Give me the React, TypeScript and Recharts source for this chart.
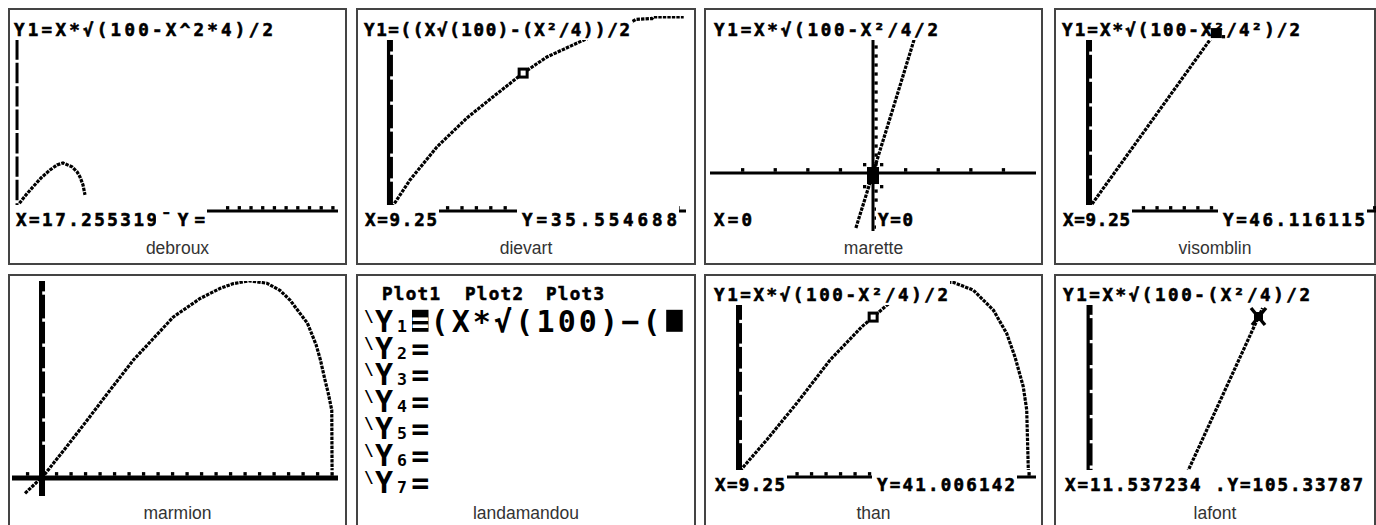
import React from 'react';
import { ComposedChart, Line, Scatter, XAxis, YAxis } from 'recharts';

type Pt = { x: number; y: number };

// ---- debroux ----
const debrouxFormula = 'Y1=X*√(100-X^2*4)/2';
const debrouxReadout = ['X=17.255319', '¯Y='];
const debrouxCurve: Pt[] = [
  { x: 0.2, y: 2.0 }, { x: 0.77, y: 4.2 }, { x: 1.37, y: 6.3 }, { x: 2.05, y: 8.6 },
  { x: 2.82, y: 10.7 }, { x: 3.42, y: 12.0 }, { x: 3.93, y: 12.5 }, { x: 4.7, y: 11.5 },
  { x: 5.13, y: 10.2 }, { x: 5.38, y: 8.9 }, { x: 5.64, y: 6.8 }, { x: 5.81, y: 4.2 },
];
const debrouxXTicks = [18, 19, 20, 21, 22, 23, 24, 25, 26, 27];

// ---- dievart ----
const dievartFormula = 'Y1=((X√(100)-(X²/4))/2';
const dievartReadout = ['X=9.25', 'Y=35.554688'];
const dievartCurve: Pt[] = [
  { x: 0.14, y: 1.0 }, { x: 1.39, y: 8.0 }, { x: 3.26, y: 16.5 }, { x: 5.35, y: 24.0 },
  { x: 7.15, y: 29.4 }, { x: 9.25, y: 35.55 }, { x: 10.9, y: 39.7 }, { x: 13.3, y: 43.8 },
  { x: 15.0, y: 46.5 }, { x: 16.5, y: 48.2 }, { x: 17.1, y: 49.4 }, { x: 18.2, y: 49.6 },
  { x: 18.3, y: 50.0 }, { x: 20.4, y: 50.0 },
];
const dievartCursor: Pt = { x: 9.25, y: 35.55 };
const dievartXTicks = [1, 2, 3, 4, 5, 6, 7, 8, 9, 10, 11, 12, 13, 14, 15, 16, 17, 18, 19, 20];
const dievartYMarks = [8.0, 14.4, 20.9, 27.8, 34.3, 40.7, 47.1];

// ---- marette ----
const maretteFormula = 'Y1=X*√(100-X²/4/2';
const maretteReadout = ['X=0', 'Y=0'];
const maretteLine: Pt[] = [
  { x: -1.05, y: -6.1 }, { x: 0, y: 0 }, { x: 1.25, y: 7.3 }, { x: 2.52, y: 14.8 }, { x: 2.95, y: 17.4 },
];
const maretteCursor: Pt = { x: 0, y: 0 };
const maretteXTicks = [-8, -6, -4, -2, 2, 4, 6, 8];
const maretteYTicks = [-6, -5, -4, -3, -2, -1, 1, 2, 3, 4, 5, 6, 7, 8, 9, 10, 11, 12, 13, 14, 15, 16, 17];

// ---- visomblin ----
const visomblinFormula = 'Y1=X*√(100-X²/4²)/2';
const visomblinReadout = ['X=9.25', 'Y=46.116115'];
const visomblinLine: Pt[] = [{ x: 0.22, y: 1.8 }, { x: 9.25, y: 46.1 }];
const visomblinCursor: Pt = { x: 9.25, y: 46.1 };
const visomblinXTicks = [1, 2, 3, 4, 5, 6, 7, 8, 9, 10, 11, 12, 13, 14, 15, 16, 17, 18, 19, 20, 21];
const visomblinYMarks = [8.8, 15.0, 21.5, 27.5, 33.9, 40.9, 47.3];

// ---- marmion ----
const marmionCurve: Pt[] = [
  { x: -1.17, y: -3.9 }, { x: 0.09, y: 0.5 }, { x: 1.7, y: 8.0 }, { x: 3.0, y: 14.2 },
  { x: 4.46, y: 21.3 }, { x: 6.3, y: 30.1 }, { x: 7.68, y: 35.6 }, { x: 9.06, y: 41.1 },
  { x: 10.9, y: 45.8 }, { x: 12.3, y: 48.4 }, { x: 13.2, y: 49.6 }, { x: 14.3, y: 50.3 },
  { x: 15.5, y: 49.7 }, { x: 16.4, y: 47.9 }, { x: 17.1, y: 45.4 }, { x: 18.3, y: 39.5 },
  { x: 18.9, y: 34.0 }, { x: 19.2, y: 30.1 }, { x: 19.5, y: 25.2 }, { x: 19.74, y: 21.6 },
  { x: 19.98, y: 17.3 }, { x: 20.0, y: 2.0 },
];
const marmionXTicks = [-1, 1, 2, 3, 4, 5, 6, 7, 8, 9, 10, 11, 12, 13, 14, 15, 16, 17, 18, 19, 20];
const marmionYMarks = [8.9, 14.8, 21.2, 27.6, 33.9, 40.3, 47.2];

// ---- landamandou (Y= editor) ----
const plotLabels = ['Plot1', 'Plot2', 'Plot3'];
const y1Entry = ['(', 'X', '*', '√', '(', '1', '0', '0', ')', '−', '('];
const yVars = ['1', '2', '3', '4', '5', '6', '7'];

// ---- than ----
const thanFormula = 'Y1=X*√(100-X²/4)/2';
const thanReadout = ['X=9.25', 'Y=41.006142'];
const thanCurve: Pt[] = [
  { x: 0.07, y: 1.6 }, { x: 1.91, y: 9.5 }, { x: 3.98, y: 18.9 }, { x: 6.28, y: 30.0 },
  { x: 8.46, y: 38.5 }, { x: 9.25, y: 41.0 }, { x: 10.2, y: 44.1 }, { x: 12.0, y: 47.7 },
  { x: 13.2, y: 49.4 }, { x: 14.1, y: 50.0 }, { x: 14.8, y: 49.9 }, { x: 16.16, y: 47.9 },
  { x: 17.54, y: 42.8 }, { x: 18.46, y: 36.8 }, { x: 19.03, y: 30.8 }, { x: 19.6, y: 23.2 },
  { x: 19.84, y: 17.2 }, { x: 19.95, y: 1.8 },
];
const thanCursor: Pt = { x: 9.25, y: 41.006 };
const thanXTicks = [1, 2, 3, 4, 5, 6, 7, 8, 9, 10, 11, 12, 13, 14, 15, 16, 17, 18, 19, 20];
const thanYMarks = [9.1, 15.0, 21.5, 27.4, 33.8, 39.9, 46.0];

// ---- lafont ----
const lafontFormula = 'Y1=X*√(100-(X²/4)/2';
const lafontReadout = ['X=11.537234 .Y=105.33787'];
const lafontLine: Pt[] = [{ x: 6.68, y: 60.3 }, { x: 11.54, y: 105.34 }, { x: 11.85, y: 108.2 }];
const lafontCursor: Pt = { x: 11.537, y: 105.34 };
const lafontYMarks = [62, 69.4, 76.7, 84, 91.2, 98.5, 105.8];

const studentNames = ['debroux', 'dievart', 'marette', 'visomblin', 'marmion', 'landamandou', 'than', 'lafont'];

// layout
const COL_X = [8, 356, 704, 1054];
const COL_W = [339, 340, 339, 322];
const ROW_Y = [8, 274];
const ROW_H = [257, 270];
const MONO = '"DejaVu Sans Mono", monospace';

type Run = { s: string; x: number; w: number; pad?: number };
type Screen = {
  box: [number, number, number, number];
  xd: [number, number];
  yd: [number, number];
  curves: Pt[][];
  yAxis?: number;
  yDash?: string;
  xAxis?: number;
  xTicks?: number[];
  yMarks?: number[];
  yTicks?: number[];
  cursor?: { at: Pt; kind: 'box' | 'blob' | 'smallblob' | 'cross' };
  title?: Run;
  readout?: Run[];
};

const screens: Screen[] = [
  {
    box: [12, 16, 326, 215], xd: [-0.43, 27.44], yd: [-5.21, 50.78],
    curves: [debrouxCurve], yAxis: 3, yDash: '20.4 3', xAxis: 3, xTicks: debrouxXTicks,
    title: { s: debrouxFormula, x: 14, w: 259 },
    readout: [{ s: debrouxReadout[0], x: 16, w: 141 }, { s: debrouxReadout[1], x: 161, w: 44 }],
  },
  {
    box: [360, 16, 326, 215], xd: [-2.08, 20.56], yd: [-5.15, 50.26],
    curves: [dievartCurve], yAxis: 6, xAxis: 3, xTicks: dievartXTicks, yMarks: dievartYMarks,
    cursor: { at: dievartCursor, kind: 'box' },
    title: { s: dievartFormula, x: 364, w: 266 },
    readout: [{ s: dievartReadout[0], x: 365, w: 72 }, { s: dievartReadout[1], x: 522, w: 155 }],
  },
  {
    box: [710, 16, 326, 215], xd: [-10, 10], yd: [-6.44, 17.44],
    curves: [maretteLine], yAxis: 3, xAxis: 3, xTicks: maretteXTicks, yTicks: maretteYTicks,
    cursor: { at: maretteCursor, kind: 'blob' },
    title: { s: maretteFormula, x: 714, w: 224 },
    readout: [{ s: maretteReadout[0], x: 714, w: 38 }, { s: maretteReadout[1], x: 878, w: 35, pad: 2 }],
  },
  {
    box: [1058, 16, 318, 215], xd: [-2.28, 21.1], yd: [-5.18, 50.52],
    curves: [visomblinLine], yAxis: 6, xAxis: 3, xTicks: visomblinXTicks, yMarks: visomblinYMarks,
    cursor: { at: visomblinCursor, kind: 'smallblob' },
    title: { s: visomblinFormula, x: 1062, w: 238 },
    readout: [{ s: visomblinReadout[0], x: 1063, w: 67 }, { s: visomblinReadout[1], x: 1223, w: 142 }],
  },
  {
    box: [12, 281, 326, 215], xd: [-2.07, 20.41], yd: [-4.59, 50.26],
    curves: [marmionCurve], yAxis: 6, xAxis: 5, xTicks: marmionXTicks, yMarks: marmionYMarks,
  },
  {
    box: [710, 281, 326, 215], xd: [-2.0, 20.48], yd: [-4.87, 50.26],
    curves: [thanCurve], yAxis: 6, xAxis: 3, xTicks: thanXTicks, yMarks: thanYMarks,
    cursor: { at: thanCursor, kind: 'box' },
    title: { s: thanFormula, x: 714, w: 234 },
    readout: [{ s: thanReadout[0], x: 715, w: 70 }, { s: thanReadout[1], x: 877, w: 138 }],
  },
  {
    box: [1058, 281, 318, 215], xd: [-2.16, 19.62], yd: [53.6, 116.1],
    curves: [lafontLine], yAxis: 6, yMarks: lafontYMarks,
    cursor: { at: lafontCursor, kind: 'cross' },
    title: { s: lafontFormula, x: 1063, w: 247 },
    readout: [{ s: lafontReadout[0], x: 1065, w: 298 }],
  },
];

const Frame: React.FC<{ s: Screen; children?: React.ReactNode }> = ({ s, children }) => (
  <div style={{ position: 'absolute', left: s.box[0], top: s.box[1] }}>
    <ComposedChart width={s.box[2]} height={s.box[3]} margin={{ top: 0, right: 0, bottom: 0, left: 0 }}>
      <XAxis type="number" dataKey="x" domain={s.xd} hide allowDataOverflow />
      <YAxis type="number" dataKey="y" domain={s.yd} hide allowDataOverflow />
      {children}
    </ComposedChart>
  </div>
);

const BaseScreen: React.FC<{ s: Screen }> = ({ s }) => {
  const xw = s.xAxis || 3;
  return (
    <Frame s={s}>
      {s.yAxis && (
        <Line id="yaxis" data={[{ x: 0, y: s.yd[1] }, { x: 0, y: s.yd[0] }]} dataKey="y" type="linear"
          stroke="#000" strokeWidth={s.yAxis} strokeDasharray={s.yDash} dot={false} activeDot={false}
          isAnimationActive={false} />
      )}
      {s.xAxis && (
        <Line id="xaxis" data={[{ x: s.xd[0], y: 0 }, { x: s.xd[1], y: 0 }]} dataKey="y" type="linear"
          stroke="#000" strokeWidth={s.xAxis} dot={false} activeDot={false} isAnimationActive={false} />
      )}
      {s.curves.map((c, i) => (
        <Line key={i} id={`curve-${i}`} data={c} dataKey="y" type="linear" stroke="#000" strokeWidth={3.2}
          strokeDasharray="3.4 1.1" dot={false} activeDot={false} isAnimationActive={false} />
      ))}
      {s.xTicks && (
        <Scatter id="xticks" data={s.xTicks.map((x) => ({ x, y: 0 }))} dataKey="y" isAnimationActive={false}
          shape={(p: any) => <rect x={p.cx - 1.6} y={p.cy - xw / 2 - 3.4} width={3.3} height={3.6} fill="#000" />} />
      )}
      {s.yMarks && (
        <Scatter id="ymarks" data={s.yMarks.map((y) => ({ x: 0, y }))} dataKey="y" isAnimationActive={false}
          shape={(p: any) => <rect x={p.cx + 0.2} y={p.cy - 1.6} width={3.2} height={3.3} fill="#fff" />} />
      )}
      {s.yTicks && (
        <Scatter id="yticks" data={s.yTicks.map((y) => ({ x: 0, y }))} dataKey="y" isAnimationActive={false}
          shape={(p: any) => <rect x={p.cx + 1.4} y={p.cy - 1.6} width={3.3} height={3.3} fill="#000" />} />
      )}
    </Frame>
  );
};

const cursorShape = (kind: string) => (p: any) => {
  const { cx, cy } = p;
  if (kind === 'box') {
    return <rect x={cx - 4} y={cy - 4} width={8} height={8} fill="#fff" stroke="#000" strokeWidth={3} />;
  }
  if (kind === 'blob') {
    return (
      <g fill="#000">
        <rect x={cx - 6} y={cy - 6} width={12} height={17} />
        <rect x={cx - 10} y={cy - 10} width={3.3} height={3.3} />
        <rect x={cx + 7} y={cy - 10} width={3.3} height={3.3} />
        <rect x={cx - 10} y={cy + 12} width={3.3} height={3.3} />
        <rect x={cx + 7} y={cy + 12} width={3.3} height={3.3} />
      </g>
    );
  }
  if (kind === 'smallblob') {
    return (
      <g fill="#000">
        <rect x={cx - 4} y={cy - 5} width={11} height={10} />
        <rect x={cx - 7.5} y={cy - 7} width={3.3} height={3.3} />
        <rect x={cx + 7} y={cy + 2} width={3.3} height={3.3} />
      </g>
    );
  }
  return (
    <g>
      <line x1={cx - 7} y1={cy - 10} x2={cx + 7} y2={cy + 7} stroke="#000" strokeWidth={3.4} />
      <line x1={cx + 8} y1={cy - 10} x2={cx - 6} y2={cy + 7} stroke="#000" strokeWidth={3.4} />
      <rect x={cx - 4} y={cy - 6} width={9} height={9} fill="#000" />
    </g>
  );
};

const TopScreen: React.FC<{ s: Screen }> = ({ s }) => (
  <Frame s={s}>
    {s.cursor && (
      <Scatter id="cursor" data={[s.cursor.at]} dataKey="y" isAnimationActive={false} shape={cursorShape(s.cursor.kind)} />
    )}
  </Frame>
);

const SmallRun: React.FC<{ r: Run; top: number; bgTop: number; bgH?: number; minX?: number; bg?: boolean }> = ({
  r, top, bgTop, bgH = 24, minX = 0, bg = true,
}) => {
  const bx = Math.max(minX, r.x - (r.pad ?? 5));
  return (
    <g>
      {bg && <rect x={bx} y={bgTop} width={r.x + r.w + 2 - bx} height={bgH} fill="#fff" />}
      <text x={r.x} y={top + 12.5} textLength={r.w} lengthAdjust="spacing" fontFamily={MONO}
        fontWeight="bold" fontSize={17.5} fill="#000" stroke="#000" strokeWidth={0.6}>{r.s}</text>
    </g>
  );
};

// Y= editor screen: one text block, rows placed on the TI 8-pixel line grid
const EditorPanel: React.FC = () => {
  const top = 281;
  const cellX = (i: number) => 430 + i * 21.2;
  const plotX = [382, 465, 546];
  const rows = yVars.map((_, k) => top + (k + 1) * 26.8);
  return (
    <g>
      <rect x={412} y={rows[0] + 2} width={16.5} height={22} fill="#000" />
      <rect x={cellX(11) + 3} y={rows[0] + 2} width={16.5} height={22} fill="#000" />
      <text fontFamily={MONO} fontWeight="bold" fill="#000">
        {plotLabels.map((p, i) => (
          <tspan key={p} x={plotX[i]} y={299.5} fontSize={17.5} textLength={58} lengthAdjust="spacing"
            stroke="#000" strokeWidth={0.6}>{p}</tspan>
        ))}
        {yVars.map((v, k) => {
          const rt = rows[k];
          return (
            <React.Fragment key={v}>
              <tspan x={364} y={rt + 14} fontSize={16}>{'\\'}</tspan>
              <tspan x={384} y={rt + 24} fontSize={30} textAnchor="middle">Y</tspan>
              <tspan x={402} y={rt + 24} fontSize={16.5} textAnchor="middle">{v}</tspan>
              <tspan x={420.2} y={rt + 24} fontSize={30} textAnchor="middle" fill={k === 0 ? '#fff' : '#000'}>=</tspan>
              {k === 0 && y1Entry.map((c, i) => (
                <tspan key={i} x={cellX(i) + 9.5} y={rt + 24} fontSize={30} textAnchor="middle">{c}</tspan>
              ))}
            </React.Fragment>
          );
        })}
      </text>
    </g>
  );
};

const App: React.FC = () => {
  return (
    <div style={{ position: 'absolute', left: 0, top: 0, width: 1376, height: 525, overflow: 'hidden', background: '#fff' }}>
      {studentNames.map((n, i) => {
        const row = Math.floor(i / 4);
        const col = i % 4;
        return (
          <div key={n} style={{
            position: 'absolute', left: COL_X[col], top: ROW_Y[row], width: COL_W[col], height: ROW_H[row],
            border: '2px solid #444', boxSizing: 'border-box', background: '#fff',
          }} />
        );
      })}
      {screens.map((s, i) => <BaseScreen key={i} s={s} />)}
      <svg width={1376} height={525} style={{ position: 'absolute', left: 0, top: 0 }}>
        {screens.map((s, i) => (
          <g key={i}>
            {s.title && <SmallRun r={s.title} top={s.box[1] + 7} bgTop={s.box[1]} minX={s.box[0]} />}
            {s.readout && s.readout.map((r, j) => (
              <SmallRun key={j} r={r} top={s.box[1] + 197} bgTop={s.box[1] + 189} bgH={26} minX={s.box[0]} />
            ))}
          </g>
        ))}
        <EditorPanel />
        {studentNames.map((n, i) => {
          const row = Math.floor(i / 4);
          const col = i % 4;
          return (
            <text key={n} x={COL_X[col] + COL_W[col] / 2} y={row === 0 ? 254 : 519} textAnchor="middle"
              fontFamily='"Liberation Sans", Arial, sans-serif' fontSize={17.5} fill="#333">{n}</text>
          );
        })}
      </svg>
      {screens.map((s, i) => <TopScreen key={i} s={s} />)}
    </div>
  );
};

export default App;
